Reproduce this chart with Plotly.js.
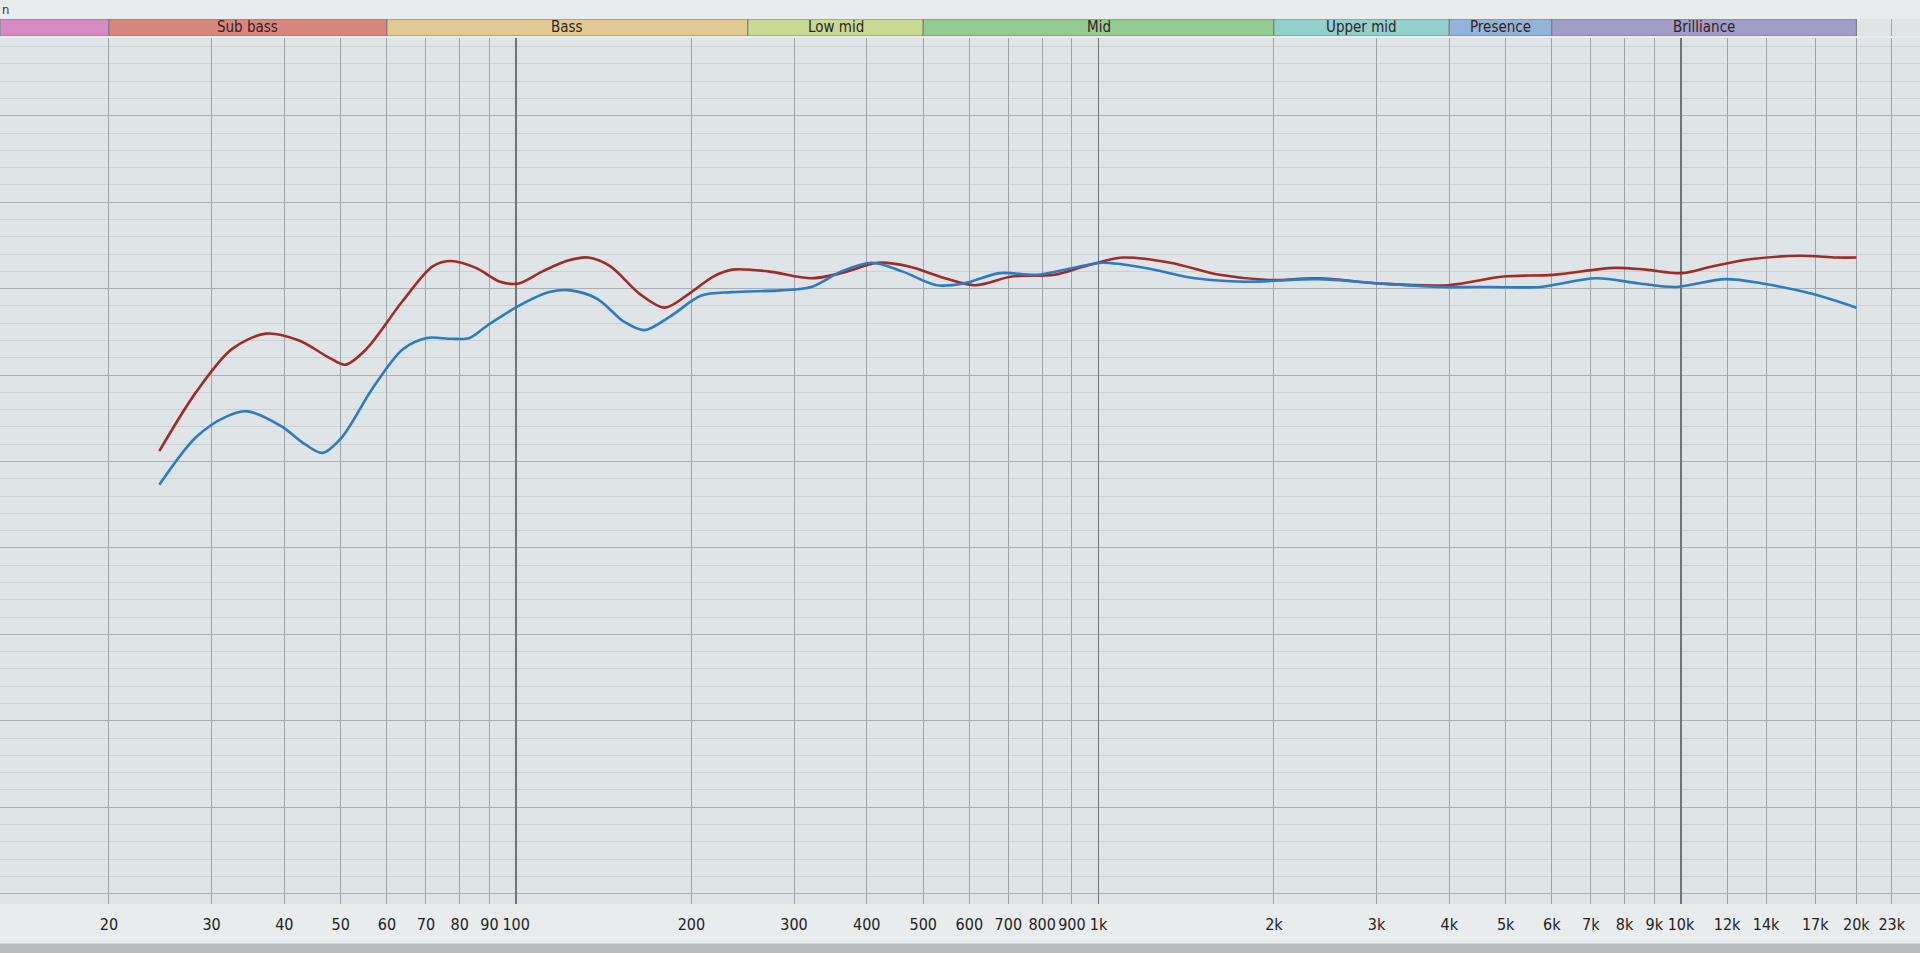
<!DOCTYPE html>
<html><head><meta charset="utf-8">
<script src="https://cdn.plot.ly/plotly-3.0.1.min.js"></script>
<style>html,body{margin:0;padding:0;background:#e9ecec;overflow:hidden}#chart{width:1920px;height:953px}</style>
</head><body><div id="chart"></div>
<script>
// Frequency response curves (Hz, dB)
const freqRed = [24.4, 28.2, 32.5, 37.2, 42.4, 47.8, 50.9, 55.3, 63.9, 72.0, 77.4, 85.3, 93.9, 101, 111, 122, 133, 145, 163, 180, 198, 218, 235, 271, 321, 362, 418, 471, 545, 614, 710, 840, 948, 1102, 1328, 1614, 1959, 2383, 3040, 3981, 4956, 6026, 7691, 8690, 10045, 11355, 13140, 15970, 18490, 20000];
const levelRed = [0.6, 4.0, 6.5, 7.4, 7.0, 6.0, 5.6, 6.5, 9.3, 11.3, 11.6, 11.2, 10.4, 10.3, 11.0, 11.6, 11.8, 11.3, 9.7, 8.9, 9.7, 10.7, 11.1, 11.0, 10.6, 10.9, 11.5, 11.3, 10.6, 10.2, 10.7, 10.8, 11.3, 11.8, 11.5, 10.8, 10.5, 10.6, 10.3, 10.2, 10.7, 10.8, 11.2, 11.1, 10.9, 11.3, 11.7, 11.9, 11.8, 11.8];
const freqBlue = [24.4, 28.2, 31.8, 34.6, 39.5, 43.4, 46.5, 50.2, 56.6, 63.9, 70.3, 77.4, 83.2, 89.5, 101, 114, 124, 138, 153, 166, 184, 208, 235, 284, 321, 362, 408, 460, 527, 586, 677, 782, 903, 1015, 1204, 1463, 1778, 2383, 3040, 3882, 4721, 5730, 7145, 8472, 9810, 11910, 13800, 16790, 20000];
const levelBlue = [-1.35, 1.4, 2.6, 2.9, 2.05, 1.0, 0.5, 1.4, 4.2, 6.5, 7.15, 7.1, 7.15, 7.9, 9.0, 9.8, 9.9, 9.4, 8.1, 7.6, 8.4, 9.6, 9.8, 9.9, 10.1, 11.0, 11.5, 11.0, 10.2, 10.3, 10.9, 10.8, 11.2, 11.5, 11.2, 10.6, 10.4, 10.55, 10.3, 10.1, 10.1, 10.1, 10.6, 10.3, 10.1, 10.55, 10.3, 9.7, 8.9];

// X axis ticks
const tickFreqs = [20, 30, 40, 50, 60, 70, 80, 90, 100, 200, 300, 400, 500, 600, 700, 800, 900, 1000, 2000, 3000, 4000, 5000, 6000, 7000, 8000, 9000, 10000, 12000, 14000, 17000, 20000, 23000];
const tickLabels = ['20', '30', '40', '50', '60', '70', '80', '90', '100', '200', '300', '400', '500', '600', '700', '800', '900', '1k', '2k', '3k', '4k', '5k', '6k', '7k', '8k', '9k', '10k', '12k', '14k', '17k', '20k', '23k'];
const accentFreqs = [100, 1000, 10000];

// Frequency bands strip
const bandNames = ['', 'Sub bass', 'Bass', 'Low mid', 'Mid', 'Upper mid', 'Presence', 'Brilliance'];
const bandEdges = [13, 20, 60, 250, 500, 2000, 4000, 6000, 20000];
const bandColors = ['#d68cc2', '#d8877e', '#dfcb91', '#c8d991', '#92cc92', '#92d0cc', '#93b4d8', '#a19dc7'];

const xRange = [1.1139, 4.4103];
const FONT = "'Liberation Sans Narrow', 'DejaVu Sans Condensed', 'Open Sans', sans-serif";

const traces = [
  {x: freqRed, y: levelRed, type: 'scatter', mode: 'lines', line: {color: '#a02c27', width: 2.6, shape: 'spline', smoothing: 0.9}, hoverinfo: 'skip'},
  {x: freqBlue, y: levelBlue, type: 'scatter', mode: 'lines', line: {color: '#2b7bc6', width: 2.6, shape: 'spline', smoothing: 0.9}, hoverinfo: 'skip'},
  {x: accentFreqs, y: accentFreqs.map(() => null), xaxis: 'x2', yaxis: 'y', type: 'scatter', mode: 'lines', hoverinfo: 'skip'},
  {x: [bandEdges[1]], y: [null], xaxis: 'x', yaxis: 'y2', type: 'scatter', mode: 'lines', hoverinfo: 'skip'}
];

const shapes = [];
const annotations = [];
for (let i = 0; i < bandNames.length; i++) {
  shapes.push({type: 'rect', xref: 'x', yref: 'y2', x0: bandEdges[i], x1: bandEdges[i + 1], y0: 0, y1: 1,
    fillcolor: bandColors[i], line: {color: '#7a7a7c', width: 1}, layer: 'above'});
  if (bandNames[i]) {
    annotations.push({xref: 'x', yref: 'y2', x: (Math.log10(bandEdges[i]) + Math.log10(bandEdges[i + 1])) / 2, y: 0.5,
      text: bandNames[i], showarrow: false, font: {family: FONT, size: 15, color: '#33231f'}, xanchor: 'center', yanchor: 'middle'});
  }
}
shapes.push({type: 'rect', xref: 'paper', yref: 'paper', x0: 0, x1: 1, y0: 0, y1: 0.01, fillcolor: '#b8bbbd', line: {width: 0}, layer: 'above'});
annotations.push({xref: 'paper', yref: 'paper', x: 0.0, y: 1.0, xanchor: 'left', yanchor: 'top', text: 'n', showarrow: false,
  font: {family: FONT, size: 13, color: '#333'}});

const layout = {
  width: 1920, height: 953,
  margin: {l: 0, r: 0, t: 0, b: 0},
  paper_bgcolor: '#e9ecec', plot_bgcolor: '#dfe4e6',
  showlegend: false,
  xaxis: {type: 'log', range: xRange, domain: [0, 1], anchor: 'y', tickmode: 'array', tickvals: tickFreqs, ticktext: tickLabels,
    showgrid: true, gridcolor: '#9fa5a9', gridwidth: 1, zeroline: false, showline: false,
    ticks: 'outside', ticklen: 6, tickcolor: 'rgba(0,0,0,0)', automargin: false,
    tickfont: {family: FONT, size: 16, color: '#222'}, fixedrange: true},
  xaxis2: {type: 'log', range: xRange, overlaying: 'x', anchor: 'y', tickmode: 'array', tickvals: accentFreqs,
    showticklabels: false, showgrid: true, gridcolor: '#6f757a', gridwidth: 1.5, zeroline: false, showline: false, ticks: '', fixedrange: true},
  yaxis: {range: [-25.6, 24.5], domain: [0.0514, 0.9601], anchor: 'x', tick0: 0, dtick: 5, showticklabels: false,
    showgrid: true, gridcolor: '#a9afb3', gridwidth: 1, zeroline: false, showline: false, ticks: '', fixedrange: true,
    minor: {dtick: 1, showgrid: true, gridcolor: '#cbd0d3', gridwidth: 1, ticks: ''}},
  yaxis2: {range: [0, 1], domain: [0.9622, 0.9801], anchor: 'x', visible: false, fixedrange: true, showgrid: false},
  shapes: shapes,
  annotations: annotations
};

Plotly.newPlot('chart', traces, layout, {displayModeBar: false, staticPlot: true});
</script>
</body></html>
